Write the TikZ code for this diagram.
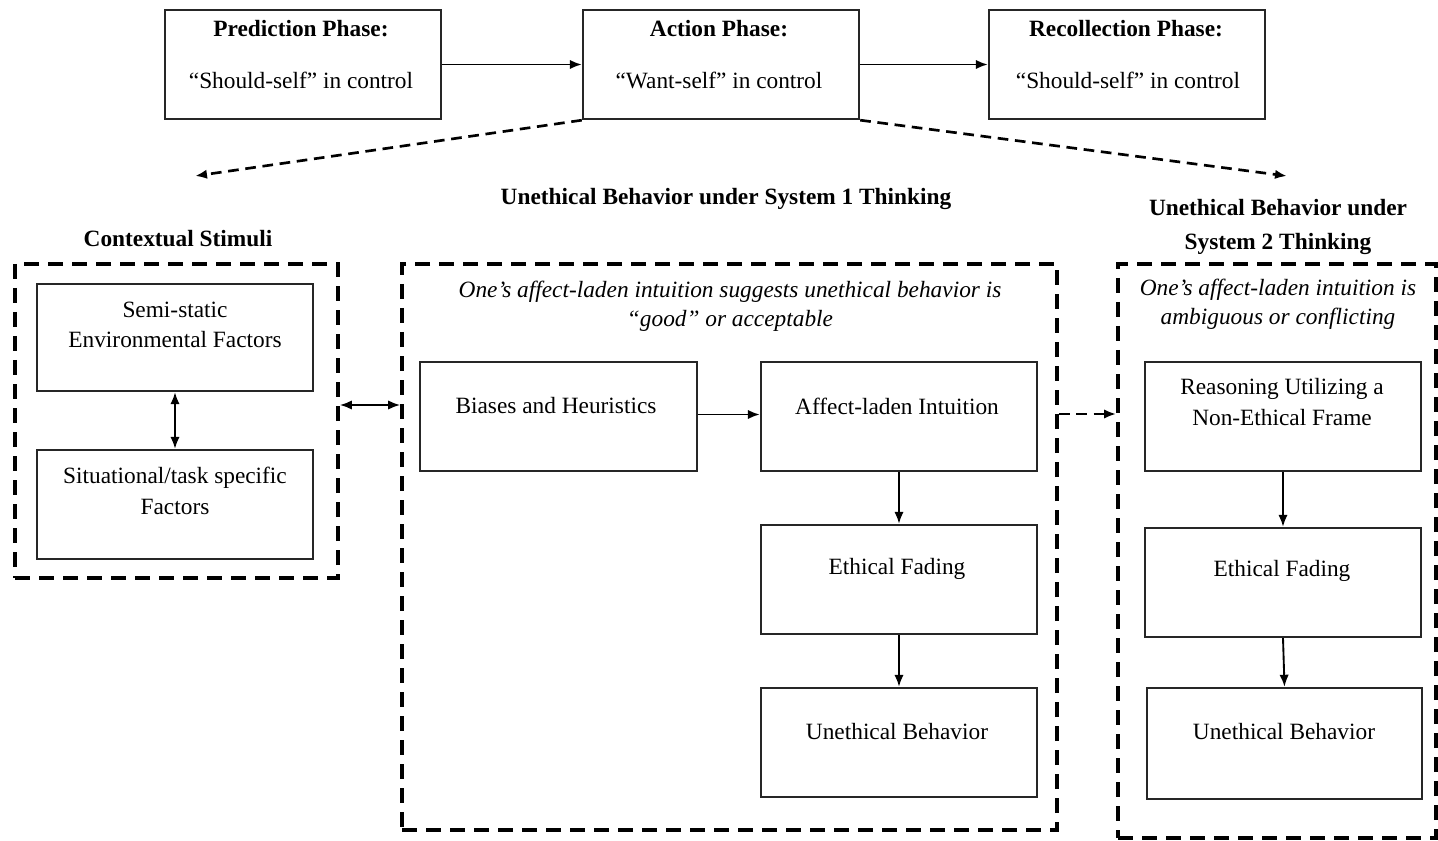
\documentclass[tikz,border=0pt]{standalone}
\usepackage{fontspec}
\setmainfont{Liberation Serif}
\usetikzlibrary{arrows.meta,calc}
\begin{document}
\begin{tikzpicture}[x=0.75pt,y=-0.75pt,
  box/.style={draw=black!85,line width=1.8pt,rectangle,inner sep=0pt},
  dbox/.style={draw=black,line width=2.8pt,rectangle,inner sep=0pt,dash pattern=on 11pt off 7pt},
  txt/.style={font=\fontsize{17.5}{20}\selectfont,inner sep=0pt,align=center},
  btxt/.style={font=\fontsize{17.5}{20}\selectfont\bfseries,inner sep=0pt,align=center},
  itxt/.style={font=\fontsize{17.5}{20}\selectfont\itshape,inner sep=0pt,align=center},
  arr/.style={line width=1.4pt,-{Latex[length=9pt,width=7pt]}},
  darr/.style={line width=1.4pt,{Latex[length=9pt,width=7pt]}-{Latex[length=9pt,width=7pt]}},
  dsharr/.style={line width=2pt,dash pattern=on 8pt off 5pt,-{Latex[length=9pt,width=7pt]}}
]
\useasboundingbox (0,0) rectangle (1438,841);
\def\mkbox#1#2#3#4#5{\node[box,minimum width={(#4-#2)*0.75pt},minimum height={(#5-#3)*0.75pt}] (#1) at ({(#2+#4)/2},{(#3+#5)/2}) {};}
\def\mkdbox#1#2#3#4#5{\node[dbox,minimum width={(#4-#2)*0.75pt},minimum height={(#5-#3)*0.75pt}] (#1) at ({(#2+#4)/2},{(#3+#5)/2}) {};}

% top phases
\mkbox{pred}{165}{10}{441}{119}
\mkbox{act}{583}{10}{859}{119}
\mkbox{rec}{989}{10}{1265}{119}
\node[btxt] (predt) at (301,29) {Prediction Phase:};
\node[txt] (preds) at (301,80) {“Should-self” in control};
\node[btxt] (actt) at (719,29) {Action Phase:};
\node[txt] (acts) at (719,80) {“Want-self” in control};
\node[btxt] (rect) at (1126,29) {Recollection Phase:};
\node[txt] (recs) at (1128,80) {“Should-self” in control};
\draw[arr] (pred.east) -- (act.west);
\draw[arr] (act.east) -- (rec.west);

\coordinate (c1) at (195,176);
\coordinate (c2) at (1287,176);
\draw[dsharr] (act.south west) -- (c1);
\draw[dsharr] (act.south east) -- (c2);

% headings
\node[btxt] (h1) at (726,199) {Unethical Behavior under System 1 Thinking};
\node[btxt] (h0) at (178,239) {Contextual Stimuli};
\node[btxt] (h2) at (1278,227) {Unethical Behavior under\\[5pt]System 2 Thinking};

% contextual stimuli
\mkdbox{ctx}{15}{264}{338}{578}
\mkbox{semi}{37}{284}{313}{391}
\mkbox{sit}{37}{450}{313}{559}
\node[txt] (semit) at (175,325) {Semi-static\\[3pt]Environmental Factors};
\node[txt] (sitt) at (175,491) {Situational/task specific\\[3pt]Factors};
\draw[darr] (semi.south) -- (sit.north);

% system 1
\mkdbox{sys1}{402}{264}{1057}{830}
\node[itxt] (s1t) at (730,306) {One’s affect-laden intuition suggests unethical behavior is\\[1.5pt]“good” or acceptable};
\mkbox{bias}{420}{362}{697}{471}
\mkbox{aff}{761}{362}{1037}{471}
\mkbox{fade1}{761}{525}{1037}{634}
\mkbox{ub1}{761}{688}{1037}{797}
\node[txt] (biast) at (556,406) {Biases and Heuristics};
\node[txt] (afft) at (897,406) {Affect-laden Intuition};
\node[txt] (fade1t) at (897,569) {Ethical Fading};
\node[txt] (ub1t) at (897,732) {Unethical Behavior};
\draw[arr] ($(bias.east)+(0,-2)$) -- ($(aff.west)+(0,-2)$);
\draw[arr] (aff.south) -- (fade1.north);
\draw[arr] (fade1.south) -- (ub1.north);

\draw[darr] ($(ctx.east)+(0,-16)$) -- ($(sys1.west)+(0,-142)$);

% system 2
\mkdbox{sys2}{1118}{264}{1436}{838}
\node[itxt] (s2t) at (1278,304) {One’s affect-laden intuition is\\[1.5pt]ambiguous or conflicting};
\mkbox{reas}{1145}{362}{1421}{471}
\mkbox{fade2}{1145}{528}{1421}{637}
\mkbox{ub2}{1147}{688}{1422}{799}
\node[txt] (reast) at (1282,402) {Reasoning Utilizing a\\[3pt]Non-Ethical Frame};
\node[txt] (fade2t) at (1282,571) {Ethical Fading};
\node[txt] (ub2t) at (1284,732) {Unethical Behavior};
\draw[arr] (reas.south) -- (fade2.north);
\draw[arr] (fade2.south) -- (ub2.north);

\draw[dsharr] ($(sys1.east)+(0,-133)$) -- ($(sys2.west)+(0,-137)$);
\end{tikzpicture}
\end{document}
